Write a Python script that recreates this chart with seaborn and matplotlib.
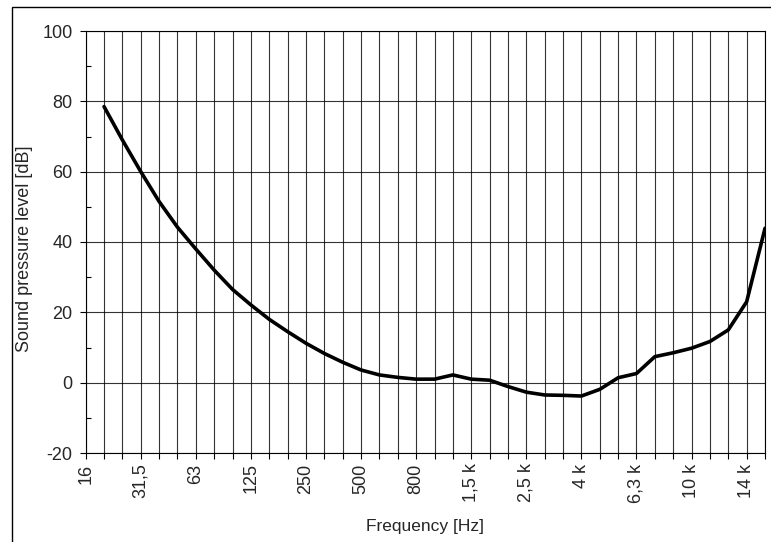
import numpy as np
import pandas as pd
import matplotlib
matplotlib.use("Agg")
import matplotlib.pyplot as plt
import seaborn as sns
from matplotlib.patches import Rectangle
from matplotlib.ticker import MultipleLocator, FixedLocator, NullFormatter

# ---- data -------------------------------------------------------------
# category positions of the frequency bands (equally spaced category axis)
band_index = list(range(1, 38))
spl_db = [78.5, 69.0, 60.0, 51.5, 44.2, 38.0, 32.0, 26.5, 22.1, 18.0,
          14.5, 11.2, 8.3, 5.8, 3.6, 2.2, 1.5, 1.0, 1.0, 2.2,
          1.0, 0.7, -1.1, -2.7, -3.5, -3.6, -3.8, -1.9, 1.4, 2.6,
          7.4, 8.5, 9.8, 11.7, 15.0, 23.0, 43.9]
n_categories = 38
tick_positions = list(range(0, 38, 3))
tick_labels = ["16", "31,5", "63", "125", "250", "500", "800",
               "1,5 k", "2,5 k", "4 k", "6,3 k", "10 k", "14 k"]
y_min, y_max = -20, 100

df = pd.DataFrame({"band": band_index, "spl": spl_db})

# ---- style ------------------------------------------------------------
sns.set_style("white")
plt.rcParams["font.family"] = ["Liberation Sans", "DejaVu Sans"]
plt.rcParams["axes.unicode_minus"] = False

fig = plt.figure(figsize=(7.71, 5.42), dpi=100)
ax = fig.add_axes([85.7 / 771, 1 - 453 / 542, (765 - 85.7) / 771, (453 - 31) / 542])

sns.lineplot(data=df, x="band", y="spl", ax=ax, color="black",
             linewidth=2.6, solid_joinstyle="round", solid_capstyle="round")

ax.set_xlim(0, n_categories - 1)
ax.set_ylim(y_min, y_max)

# x axis: tick + gridline at every category, labels every third
ax.xaxis.set_major_locator(FixedLocator(tick_positions))
ax.set_xticklabels(tick_labels, rotation=90, fontsize=13)
ax.xaxis.set_minor_locator(FixedLocator([i for i in range(n_categories) if i not in tick_positions]))
ax.xaxis.set_minor_formatter(NullFormatter())
ax.tick_params(axis="x", which="both", direction="out", length=4.5, width=0.8,
               color="black", pad=3, bottom=True)

# y axis
ax.yaxis.set_major_locator(MultipleLocator(20))
ax.yaxis.set_minor_locator(MultipleLocator(10))
ax.tick_params(axis="y", which="major", direction="out", length=4.5, width=0.8,
               color="black", pad=5, labelsize=13, left=True)
ax.tick_params(axis="y", which="minor", direction="in", length=3.5, width=0.8,
               color="black", left=True)

ax.grid(True, which="major", axis="y", color="black", linewidth=0.8, alpha=0.8)
ax.grid(True, which="both", axis="x", color="black", linewidth=0.8, alpha=0.8)
ax.set_axisbelow(True)

for s in ax.spines.values():
    s.set_visible(True)
    s.set_color("black")
    s.set_linewidth(0.8)

ax.set_xlabel("Frequency [Hz]", fontsize=12.5, labelpad=12)
ax.set_ylabel("Sound pressure level [dB]", fontsize=13)
ax.yaxis.set_label_coords(-53 / 679.3, 0.485)

# outer chart frame (top and left edges visible)
fig.patches.append(Rectangle((11.5 / 771, -0.1), 1.2, 1.1 - 7 / 542,
                             transform=fig.transFigure, fill=False,
                             edgecolor="black", linewidth=1.0))

fig.savefig("out.png", dpi=100)
